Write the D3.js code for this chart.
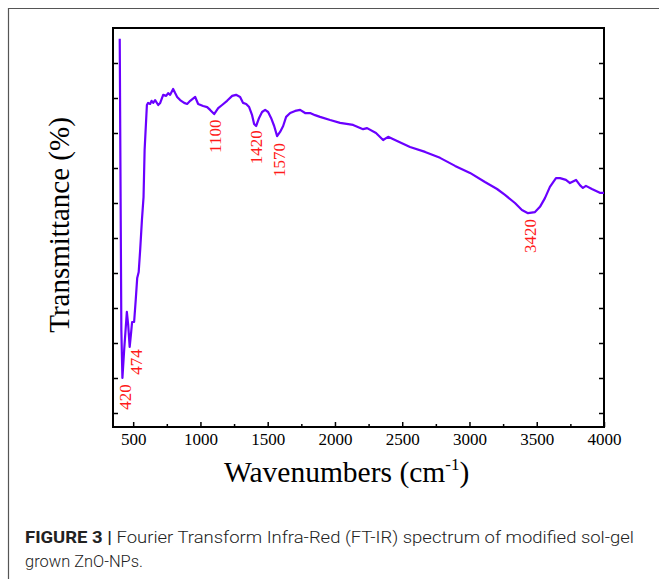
<!DOCTYPE html>
<html><head><meta charset="utf-8">
<script src="https://cdn.jsdelivr.net/npm/d3@7"></script>
<style>
html,body{margin:0;padding:0;background:#fff;}
svg{display:block;}
</style></head>
<body>
<script>
// Data (wavenumber cm-1, transmittance arbitrary units)
const wavenumbers = [400,412,420,433,453,463,474,485,492,507,519,530,541,552,565,577,585,602,611,626,637,649,663,686,701,723,745,760,775,797,812,827,849,879,901,924,961,983,1020,1050,1072,1102,1132,1161,1198,1236,1265,1295,1317,1340,1362,1384,1399,1414,1436,1458,1481,1503,1525,1548,1570,1592,1615,1637,1667,1704,1741,1778,1815,1852,1889,1964,2038,2135,2209,2239,2305,2358,2395,2462,2558,2670,2781,2893,3004,3115,3205,3264,3338,3390,3435,3487,3524,3561,3598,3643,3673,3717,3747,3792,3821,3843,3866,3910,3969,4000];
const transmittance = [116.9,33.7,20.0,28.0,38.9,35.1,28.9,33.1,36.0,36.0,42.3,48.6,50.3,56.6,65.1,71.7,85.1,98.0,98.6,98.3,99.2,98.6,99.4,98.0,98.6,100.9,100.6,101.4,100.9,102.6,101.4,100.3,99.4,98.6,98.3,99.2,100.3,98.3,97.7,97.4,96.6,95.4,97.1,98.0,99.2,100.6,100.9,100.3,98.6,98.3,97.4,95.1,92.6,92.0,94.3,96.0,96.6,96.0,94.3,92.0,89.1,90.3,92.0,94.6,95.7,96.3,96.6,95.7,95.7,95.1,94.6,93.7,92.9,92.3,91.1,91.4,90.0,88.0,88.9,87.7,86.0,84.6,82.9,80.6,78.6,76.0,74.0,72.3,70.0,68.0,67.1,67.4,68.9,71.4,74.6,77.1,77.1,76.6,75.7,76.6,75.1,74.3,74.9,74.0,72.9,72.9];
const peakLabels = ["420","474","1100","1420","1570","3420"];
const peakX = [420,474,1100,1420,1570,3420];
const peakY = [10.9,20.9,84.3,81.1,77.4,55.7];
const xTicks = [500,1000,1500,2000,2500,3000,3500,4000];
const xMinorTicks = [750,1250,1750,2250,2750,3250,3750];
const yTicks = [10,20,30,40,50,60,70,80,90,100,110];

const W = 659, H = 579;
const svg = d3.select("body").append("svg").attr("width", W).attr("height", H);

// outer frame
svg.append("path").attr("d", `M8.5,${H} V8.5 H${W}`).attr("fill","none").attr("stroke","#555").attr("stroke-width",1.2);

const L = 113, R = 604, T = 28, B = 427;
const x = d3.scaleLinear().domain([350, 4000]).range([L, R]);
const y = d3.scaleLinear().domain([6, 120]).range([B, T]);

const tickFont = "'Liberation Serif','Times New Roman',serif";

// bottom axis
const gx = svg.append("g").attr("transform", `translate(0,${B})`)
  .call(d3.axisBottom(x).tickValues(xTicks).tickSize(-5).tickPadding(6).tickFormat(d3.format("d")));
gx.select(".domain").remove();
gx.selectAll("text").attr("font-family", tickFont).attr("font-size", 17).attr("fill","#000");
gx.selectAll("line").attr("stroke","#000").attr("stroke-width",1.5);
const gxm = svg.append("g").attr("transform", `translate(0,${B})`)
  .call(d3.axisBottom(x).tickValues(xMinorTicks).tickSize(-3).tickFormat(""));
gxm.select(".domain").remove();
gxm.selectAll("line").attr("stroke","#000").attr("stroke-width",1.5);

// left axis
const gy = svg.append("g").attr("transform", `translate(${L},0)`)
  .call(d3.axisLeft(y).tickValues(yTicks).tickSize(-5).tickFormat(""));
gy.select(".domain").remove();
gy.selectAll("line").attr("stroke","#000").attr("stroke-width",1.5);
// right axis
const gr = svg.append("g").attr("transform", `translate(${R},0)`)
  .call(d3.axisRight(y).tickValues(yTicks).tickSize(-5).tickFormat(""));
gr.select(".domain").remove();
gr.selectAll("line").attr("stroke","#000").attr("stroke-width",1.5);

// frame
svg.append("rect").attr("x", L).attr("y", T).attr("width", R - L).attr("height", B - T)
  .attr("fill","none").attr("stroke","#000").attr("stroke-width",2);

// spectrum
const data = wavenumbers.map((w, i) => [w, transmittance[i]]);
svg.append("path").datum(data)
  .attr("d", d3.line().x(d => x(d[0])).y(d => y(d[1])))
  .attr("fill","none").attr("stroke","#6a00ff").attr("stroke-width",2.2).attr("stroke-linejoin","round");

// peak labels
const labelXOffset = {"420":3,"474":6,"1100":1,"1420":-1,"1570":2,"3420":4};
peakLabels.forEach((t, i) => {
  svg.append("text")
    .attr("transform", `translate(${x(peakX[i]) + labelXOffset[t]},${y(peakY[i])}) rotate(-90)`)
    .attr("dy","0.35em")
    .attr("font-family", tickFont).attr("font-size", 17).attr("fill","#ff1a1a")
    .text(t);
});

// axis titles
svg.append("text")
  .attr("transform", `translate(69,225) rotate(-90)`)
  .attr("text-anchor","middle")
  .attr("font-family", tickFont).attr("font-size", 29).attr("fill","#000")
  .text("Transmittance (%)");

const xt = svg.append("text")
  .attr("x", 224).attr("y", 482)
  .attr("font-family", tickFont).attr("font-size", 29.5).attr("fill","#000");
xt.append("tspan").text("Wavenumbers (cm");
xt.append("tspan").attr("font-size", 17).attr("dy", -12).text("-1");
xt.append("tspan").attr("dy", 12).text(")");

// caption
const capFont = "'Roboto','Liberation Sans',Arial,sans-serif";
const c1 = svg.append("text").attr("x", 25).attr("y", 543)
  .attr("font-family", capFont).attr("font-size", 16.5).attr("fill","#222")
  .attr("textLength", 609).attr("lengthAdjust", "spacingAndGlyphs");
c1.append("tspan").attr("font-weight","bold").text("FIGURE 3 | ");
c1.append("tspan").attr("font-weight","300").text("Fourier Transform Infra-Red (FT-IR) spectrum of modified sol-gel");
svg.append("text").attr("x", 25).attr("y", 567)
  .attr("font-family", capFont).attr("font-size", 16.5).attr("font-weight","300").attr("fill","#222")
  .attr("textLength", 118).attr("lengthAdjust", "spacingAndGlyphs")
  .text("grown ZnO-NPs.");
</script>
</body></html>
